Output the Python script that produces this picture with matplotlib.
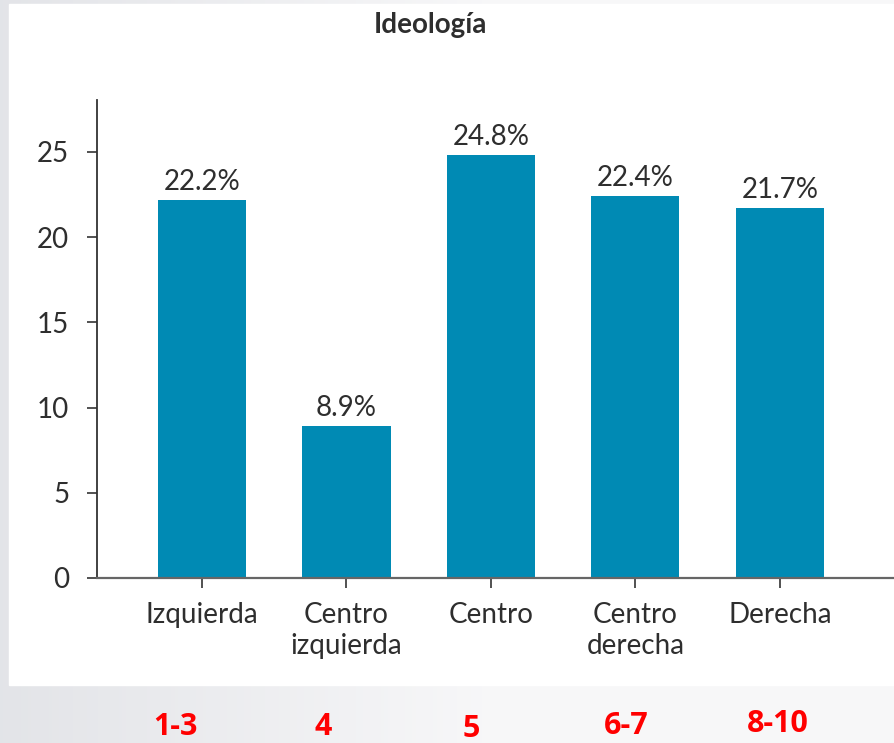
import matplotlib
matplotlib.use('Agg')
import matplotlib.pyplot as plt
import numpy as np

# datos
categorias = ["Izquierda", "Centro\nizquierda", "Centro", "Centro\nderecha", "Derecha"]
valores = [22.2, 8.9, 24.8, 22.4, 21.7]
etiquetas = ["22.2%", "8.9%", "24.8%", "22.4%", "21.7%"]
rangos = ["1-3", "4", "5", "6-7", "8-10"]
yticks = [0, 5, 10, 15, 20, 25]

AZUL = "#008ab4"
TEXTO = "#2e2e2e"

plt.rcParams['font.family'] = ['Lato', 'DejaVu Sans']

fig = plt.figure(figsize=(8.94, 7.43), dpi=100)
fig.patch.set_facecolor("white")

# fondo gris de la diapositiva
bg = fig.add_axes([0, 0, 1, 1], zorder=-10)
grad = np.linspace(0, 1, 256)
gris = np.ones((2, 256, 3))
c0 = np.array([0.89, 0.895, 0.91])
for i, t in enumerate(grad):
    w = min(t / 0.55, 1.0)
    gris[:, i, :] = c0 * (1 - w) + np.array([0.97, 0.97, 0.975]) * w
bg.imshow(gris, extent=[0, 1, 0, 1], aspect='auto')
bg.add_patch(plt.Rectangle((9 / 894, 1 - 685 / 743), 1, (685 - 4) / 743, color="white"))
bg.set_xlim(0, 1)
bg.set_ylim(0, 1)
bg.axis("off")

ax = fig.add_axes([97 / 894, 165 / 743, 1 - 97 / 894, 478 / 743])
x = np.arange(len(categorias))
barras = ax.bar(x, valores, width=0.61, color=AZUL)
for b, lab in zip(barras, etiquetas):
    ax.text(b.get_x() + b.get_width() / 2, b.get_height() + 0.3, lab,
            ha="center", va="bottom", fontsize=20, color=TEXTO)

ax.set_xlim(-0.727, 4.79)
ax.set_ylim(0, 28.05)
ax.set_yticks(yticks)
ax.set_xticks(x)
ax.set_xticklabels(categorias, fontsize=20, color=TEXTO, linespacing=1.25)
ax.tick_params(axis="y", labelsize=20, labelcolor=TEXTO, length=7, width=1.2,
               color="#333333", pad=13)
ax.tick_params(axis="x", length=7, width=1.2, color="#333333", pad=10)
for s in ["top", "right"]:
    ax.spines[s].set_visible(False)
ax.spines["left"].set_color("#333333")
ax.spines["left"].set_linewidth(1.3)
ax.spines["bottom"].set_color("#666666")
ax.spines["bottom"].set_linewidth(1.6)
ax.set_facecolor("none")

fig.text(430 / 894, 1 - 25 / 743, "Ideología", ha="center", va="center",
         fontsize=20, fontweight="bold", color=TEXTO)

# rangos en rojo debajo del gráfico
pos_rojo = [(175, 727), (323, 727), (471, 729), (626, 726), (778, 724)]
for r, (px, py) in zip(rangos, pos_rojo):
    fig.text(px / 894, 1 - py / 743, r, ha="center", va="center", fontsize=22,
             fontweight="bold", color="#ff0000", family=["Open Sans", "DejaVu Sans"])

fig.savefig("out.png", dpi=100)
